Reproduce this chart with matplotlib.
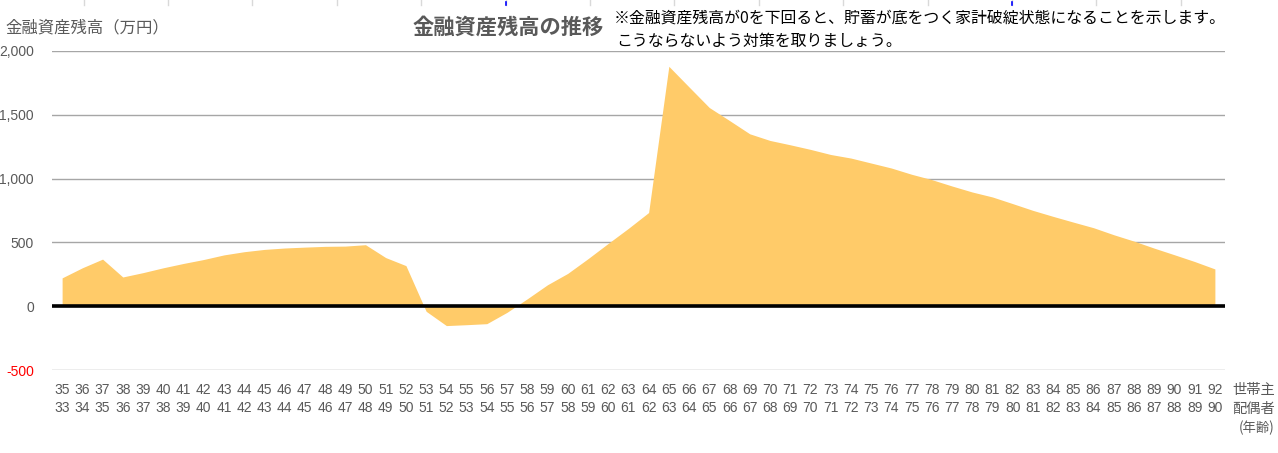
import matplotlib
matplotlib.use('Agg')
import matplotlib.pyplot as plt
from matplotlib.lines import Line2D

# ages of household head / spouse
head_age = list(range(35, 93))
spouse_age = list(range(33, 91))

# financial assets balance (10k yen)
balance = [222, 301, 369, 229, 263, 301, 335, 366, 402, 427,
           445, 456, 463, 469, 471, 482, 381, 318, -40, -152,
           -145, -137, -48, 58, 168, 257, 372, 492, 610, 734,
           1880, 1718, 1557, 1455, 1351, 1299, 1265, 1229, 1189, 1161,
           1122, 1083, 1034, 992, 942, 895, 856, 804, 751, 704,
           659, 615, 560, 510, 455, 403, 350, 292]

y_ticks = [-500, 0, 500, 1000, 1500, 2000]
y_tick_labels = ['-500', '0', '500', '1,000', '1,500', '2,000']

gray = '#595959'
jp = ['Noto Sans CJK JP', 'DejaVu Sans']
num = ['Liberation Sans', 'DejaVu Sans']

fig = plt.figure(figsize=(12.78, 4.53), dpi=100)
ax = fig.add_axes([52 / 1278, 1 - 370 / 453, (1225 - 52) / 1278, (370 - 51) / 453])

ax.fill_between(head_age, balance, 0, color='#FFCB69', linewidth=0, zorder=2)
ax.axhline(0, color='black', linewidth=2.6, zorder=3)

ax.set_xlim(34.5, 92.5)
ax.set_ylim(-500, 2000)
ax.set_yticks(y_ticks)
ax.set_yticklabels(y_tick_labels, family=num, fontsize=10, color=gray)
ax.get_yticklabels()[0].set_color('red')
ax.grid(axis='y', color='#A6A6A6', linewidth=1.0, zorder=1)
ax.set_axisbelow(True)

ax.set_xticks(head_age)
ax.set_xticklabels([f'{h}\n{s}' for h, s in zip(head_age, spouse_age)],
                   family=num, fontsize=10, color=gray, linespacing=1.42)
ax.tick_params(axis='both', length=0)
ax.tick_params(axis='x', pad=9)
ax.tick_params(axis='y', pad=13)
for s in ax.spines.values():
    s.set_visible(False)

# texts
fig.text(5 / 1278, 1 - 28 / 453, '金融資産残高（万円）', family=jp, fontsize=11.75,
         color=gray, va='center', ha='left')
fig.text(508 / 1278, 1 - 27 / 453, '金融資産残高の推移', family=jp, fontsize=15.3,
         color=gray, weight='bold', va='center', ha='center')
fig.text(614 / 1278, 1 - 18 / 453,
         '※金融資産残高が0を下回ると、貯蓄が底をつく家計破綻状態になることを示します。',
         family=jp, fontsize=11.45, color='black', va='center', ha='left')
fig.text(616 / 1278, 1 - 41 / 453, 'こうならないよう対策を取りましょう。',
         family=jp, fontsize=11.45, color='black', va='center', ha='left')

fig.text(1275 / 1278, 1 - 390 / 453, '世帯主', family=jp, fontsize=10.3,
         color=gray, va='center', ha='right')
fig.text(1275 / 1278, 1 - 409 / 453, '配偶者', family=jp, fontsize=10.3,
         color=gray, va='center', ha='right')
fig.text(1275 / 1278, 1 - 428 / 453, '(年齢)', family=jp, fontsize=9.6,
         color=gray, va='center', ha='right')

# spreadsheet cell borders peeking in at the top
for k in range(14):
    x = (83.6 + k * 84.4) / 1278
    fig.add_artist(Line2D([x, x], [1, 1 - 5 / 453], color='#D9D9D9', linewidth=1))
for x in (506, 1012):
    fig.add_artist(Line2D([x / 1278] * 2, [1 - 2 / 453, 1 - 5 / 453], color='blue', linewidth=1.2))

fig.savefig('out.png', dpi=100)
